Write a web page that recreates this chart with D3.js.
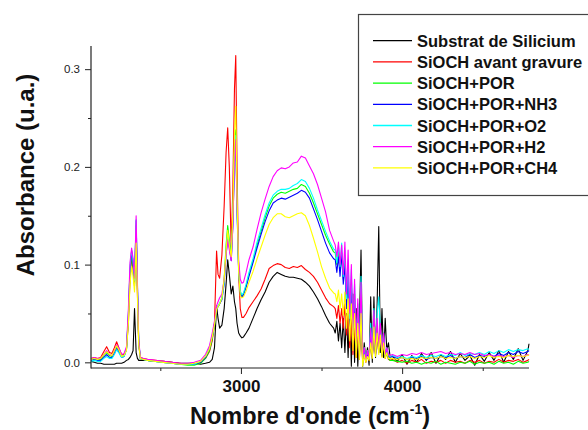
<!DOCTYPE html>
<html><head><meta charset="utf-8">
<script src="https://cdn.jsdelivr.net/npm/d3@7"></script>
<style>
html,body{margin:0;padding:0;background:#fff;}
svg{display:block;font-family:"Liberation Sans",Arial,sans-serif;}
</style></head>
<body>
<svg id="chart" width="588" height="430"></svg>
<script>
// ---- data ----
const seriesNames = ["Substrat de Silicium","SiOCH avant gravure","SiOCH+POR","SiOCH+POR+NH3","SiOCH+POR+O2","SiOCH+POR+H2","SiOCH+POR+CH4"];
const seriesColors = ["#000000","#ff0000","#00ff00","#0000ff","#00ffff","#ff00ff","#ffff00"];
const xTicksMajor = [3000, 4000];
const xTicksMinor = [2500, 3500, 4500];
const yTicksMajor = [0.0, 0.1, 0.2, 0.3];
const yTicksMinor = [0.05, 0.15, 0.25];
const xDomain = [2070, 4787];
const yDomain = [-0.0058, 0.3237];

const wavenumber = [
2070,2090,2110,2130,2150,2167,2185,2200,2215,2229,2245,2260,2275,2290,2302,2312,2322,2331,2340,2350,2358,2366,2376,2395,
2420,2470,2520,2570,2620,2670,2710,2750,2780,2805,2822,2836,2849,2858,2868,2882,2896,2908,2918,2928,2940,2950,2960,2968,2976,2986,2996,3006,3016,3032,3050,
3075,3100,3125,3150,3175,3200,3225,3250,3275,3300,3325,3350,3375,3400,3425,3450,3475,3500,3525,3550,3575,
3585,3595,3605,3615,3625,3635,3645,3655,3665,3675,3685,3695,3705,3715,3725,3735,3745,3755,3765,3775,3785,3795,3805,3815,3825,3835,3845,3855,3865,3875,3885,3895,3905,3915,3925,
3940,3970,4000,4030,4060,4090,4120,4150,4180,4210,4240,4270,4300,4330,4360,4390,4420,4450,4480,4510,4540,4570,4600,4630,4660,4690,4720,4750,4780,4787];

const substrat = [
0.001,0.000,-0.001,-0.001,-0.002,-0.002,-0.002,-0.002,-0.002,-0.001,-0.001,-0.001,0.000,0.002,0.003,0.005,0.008,0.012,0.055,0.010,0.004,0.002,0.002,0.002,
0.002,0.001,0.001,0.000,-0.001,-0.001,-0.001,-0.002,-0.001,0.000,0.003,0.015,0.058,0.045,0.035,0.038,0.055,0.080,0.105,0.090,0.070,0.078,0.062,0.055,0.040,0.030,0.027,0.025,0.026,0.030,0.035,
0.045,0.055,0.064,0.072,0.082,0.088,0.092,0.090,0.088,0.087,0.087,0.086,0.085,0.082,0.078,0.072,0.065,0.057,0.048,0.040,0.035,
0.030,0.042,0.022,0.040,0.015,0.045,0.010,0.050,0.005,0.060,-0.004,0.070,0.000,0.055,-0.004,0.040,0.115,-0.004,0.020,0.002,0.015,-0.003,0.067,0.000,0.067,0.005,0.060,0.139,0.010,0.055,0.005,0.045,0.012,0.020,0.006,
0.006,0.001,0.008,-0.002,0.007,0.000,0.009,0.002,0.010,-0.001,0.008,0.003,0.011,0.000,0.009,0.002,0.007,-0.003,0.008,0.001,0.010,0.002,0.012,0.000,0.011,0.003,0.014,0.002,0.012,0.019];

const avantGravure = [
0.004,0.005,0.004,0.005,0.011,0.016,0.010,0.009,0.015,0.021,0.014,0.008,0.008,0.014,0.040,0.085,0.108,0.094,0.078,0.135,0.070,0.018,0.005,0.004,
0.003,0.002,0.001,0.000,-0.001,-0.002,-0.002,0.000,0.004,0.011,0.022,0.040,0.114,0.090,0.086,0.110,0.160,0.215,0.240,0.200,0.115,0.180,0.280,0.314,0.200,0.090,0.055,0.046,0.046,0.050,0.056,
0.062,0.068,0.075,0.085,0.096,0.099,0.101,0.100,0.097,0.096,0.098,0.097,0.099,0.095,0.092,0.088,0.082,0.074,0.066,0.060,0.057,
0.055,0.045,0.058,0.040,0.055,0.035,0.060,0.028,0.050,0.015,0.045,0.008,0.040,0.005,0.030,0.003,0.035,0.002,0.008,0.000,0.006,0.002,0.020,0.005,0.030,0.008,0.025,0.010,0.028,0.006,0.020,0.004,0.010,0.003,0.002,
0.003,0.000,0.002,-0.001,0.002,0.000,0.003,-0.001,0.001,0.000,0.002,-0.001,0.002,0.000,0.001,-0.001,0.002,0.000,0.002,-0.001,0.001,0.000,0.003,0.000,0.002,0.001,0.003,0.000,0.002,0.003];

const porOnly = [
0.003,0.004,0.003,0.003,0.007,0.010,0.007,0.006,0.011,0.016,0.012,0.006,0.007,0.013,0.045,0.090,0.110,0.098,0.080,0.140,0.075,0.020,0.004,0.003,
0.002,0.001,0.000,-0.001,-0.002,-0.003,-0.003,-0.001,0.004,0.012,0.024,0.038,0.054,0.057,0.060,0.066,0.085,0.120,0.140,0.125,0.110,0.150,0.215,0.238,0.160,0.095,0.072,0.068,0.070,0.078,0.090,
0.104,0.120,0.134,0.148,0.160,0.168,0.172,0.174,0.173,0.175,0.177,0.178,0.182,0.180,0.173,0.163,0.152,0.141,0.130,0.121,0.113,
0.112,0.100,0.115,0.095,0.110,0.085,0.105,0.060,0.095,0.040,0.085,0.025,0.070,0.015,0.050,0.010,0.065,0.004,0.012,0.002,0.010,0.003,0.030,0.008,0.040,0.010,0.035,0.012,0.030,0.008,0.022,0.005,0.010,0.004,0.002,
0.002,0.001,0.000,0.001,-0.001,0.000,-0.002,0.000,-0.001,0.001,-0.002,0.000,-0.001,-0.002,0.000,-0.001,0.001,-0.002,0.000,-0.001,0.000,-0.002,0.001,-0.001,0.000,-0.002,0.001,-0.001,0.000,0.001];

const porNH3 = [
0.002,0.003,0.002,0.002,0.005,0.008,0.005,0.005,0.009,0.014,0.010,0.005,0.006,0.013,0.048,0.095,0.114,0.102,0.083,0.145,0.078,0.021,0.004,0.003,
0.002,0.001,0.000,-0.001,-0.002,-0.002,-0.002,0.000,0.005,0.014,0.026,0.039,0.054,0.057,0.060,0.064,0.080,0.110,0.128,0.118,0.104,0.140,0.205,0.228,0.155,0.092,0.070,0.067,0.069,0.077,0.088,
0.102,0.117,0.131,0.144,0.155,0.163,0.166,0.168,0.167,0.169,0.171,0.173,0.176,0.174,0.168,0.157,0.146,0.134,0.122,0.112,0.106,
0.105,0.092,0.108,0.088,0.112,0.080,0.100,0.055,0.090,0.035,0.080,0.020,0.065,0.012,0.045,0.008,0.060,0.003,0.010,0.002,0.008,0.003,0.025,0.006,0.035,0.008,0.030,0.010,0.028,0.007,0.020,0.006,0.012,0.006,0.005,
0.006,0.004,0.005,0.003,0.005,0.004,0.006,0.003,0.005,0.004,0.006,0.005,0.007,0.004,0.006,0.005,0.008,0.005,0.007,0.006,0.008,0.006,0.009,0.007,0.010,0.008,0.011,0.009,0.011,0.012];

const porO2 = [
0.001,0.002,0.001,0.001,0.004,0.006,0.004,0.004,0.008,0.013,0.009,0.005,0.006,0.014,0.050,0.098,0.115,0.104,0.084,0.146,0.080,0.022,0.004,0.003,
0.002,0.001,0.000,-0.001,-0.002,-0.002,-0.002,0.001,0.006,0.015,0.027,0.040,0.055,0.058,0.061,0.065,0.082,0.112,0.132,0.120,0.106,0.145,0.210,0.232,0.158,0.095,0.073,0.069,0.071,0.080,0.092,
0.106,0.123,0.137,0.151,0.163,0.171,0.175,0.177,0.177,0.178,0.181,0.183,0.187,0.185,0.178,0.168,0.156,0.145,0.134,0.124,0.116,
0.115,0.102,0.120,0.098,0.122,0.088,0.115,0.065,0.105,0.045,0.095,0.030,0.080,0.018,0.060,0.012,0.088,0.005,0.015,0.003,0.012,0.004,0.040,0.010,0.055,0.012,0.050,0.067,0.035,0.010,0.030,0.008,0.015,0.008,0.006,
0.007,0.005,0.006,0.004,0.006,0.005,0.007,0.005,0.007,0.006,0.008,0.006,0.008,0.007,0.010,0.007,0.009,0.008,0.010,0.008,0.011,0.009,0.012,0.010,0.013,0.011,0.013,0.012,0.014,0.013];

const porH2 = [
0.004,0.005,0.004,0.004,0.008,0.012,0.008,0.007,0.012,0.018,0.014,0.008,0.009,0.016,0.055,0.102,0.117,0.106,0.086,0.150,0.082,0.024,0.005,0.004,
0.003,0.002,0.001,0.000,-0.001,-0.001,0.000,0.002,0.008,0.017,0.030,0.042,0.058,0.062,0.066,0.070,0.085,0.110,0.125,0.115,0.104,0.140,0.205,0.228,0.160,0.105,0.085,0.081,0.082,0.092,0.105,
0.118,0.136,0.153,0.167,0.180,0.190,0.196,0.199,0.198,0.200,0.204,0.205,0.211,0.209,0.201,0.193,0.182,0.168,0.154,0.135,0.124,
0.120,0.108,0.123,0.100,0.120,0.090,0.123,0.070,0.115,0.050,0.100,0.030,0.085,0.020,0.065,0.012,0.082,0.005,0.015,0.003,0.012,0.004,0.035,0.008,0.053,0.010,0.045,0.015,0.040,0.010,0.030,0.008,0.015,0.008,0.007,
0.008,0.006,0.008,0.007,0.009,0.008,0.010,0.008,0.009,0.010,0.011,0.009,0.010,0.008,0.009,0.008,0.010,0.008,0.009,0.007,0.008,0.006,0.007,0.006,0.007,0.005,0.007,0.006,0.008,0.007];

const porCH4 = [
0.003,0.004,0.003,0.004,0.008,0.011,0.008,0.007,0.012,0.017,0.012,0.006,0.007,0.012,0.040,0.080,0.098,0.088,0.072,0.122,0.066,0.018,0.004,0.003,
0.002,0.001,0.000,-0.001,-0.002,-0.002,-0.001,0.001,0.006,0.014,0.026,0.038,0.054,0.057,0.060,0.066,0.085,0.115,0.135,0.120,0.108,0.155,0.235,0.262,0.170,0.092,0.068,0.066,0.067,0.073,0.082,
0.093,0.106,0.118,0.130,0.141,0.148,0.152,0.152,0.149,0.148,0.150,0.152,0.153,0.150,0.140,0.127,0.113,0.098,0.086,0.076,0.071,
0.070,0.062,0.074,0.055,0.070,0.048,0.072,0.035,0.065,0.022,0.060,0.012,0.050,0.005,0.040,0.003,0.050,-0.004,0.008,0.000,0.006,0.002,0.020,0.004,0.036,0.006,0.030,0.008,0.028,0.005,0.020,0.004,0.010,0.004,0.004,
0.004,0.003,0.005,0.003,0.004,0.003,0.005,0.004,0.005,0.004,0.006,0.004,0.005,0.004,0.006,0.005,0.006,0.004,0.006,0.005,0.007,0.005,0.006,0.005,0.007,0.006,0.007,0.006,0.007,0.008];

const seriesValues = [substrat, avantGravure, porOnly, porNH3, porO2, porH2, porCH4];

// ---- drawing ----
const svg = d3.select("#chart");
const plot = {left: 91, right: 529, top: 46, bottom: 368};
const x = d3.scaleLinear().domain(xDomain).range([plot.left, plot.right]);
const y = d3.scaleLinear().domain(yDomain).range([plot.bottom, plot.top]);

const line = d3.line().x(d => x(d[0])).y(d => y(d[1]));
const gLines = svg.append("g");
seriesValues.forEach((vals, i) => {
  const pts = wavenumber.map((w, k) => [w, vals[k]]).filter(p => p[1] !== undefined);
  gLines.append("path")
    .attr("d", line(pts))
    .attr("fill", "none")
    .attr("stroke", seriesColors[i])
    .attr("stroke-width", 1.1)
    .attr("stroke-linejoin", "round");
});

// axes
const axisColor = "#222";
const yAxisG = svg.append("g").attr("transform", `translate(${plot.left},0)`)
  .call(d3.axisLeft(y).tickValues(yTicksMajor).tickFormat(d3.format(".1f")).tickSize(6).tickSizeOuter(0));
yAxisG.select(".domain").remove();
yAxisG.selectAll("line").attr("stroke", axisColor);
yAxisG.selectAll("text").attr("font-size", "11.5px").attr("fill", "#222").attr("font-family", "Liberation Sans, Arial, sans-serif").attr("x", -11);
svg.append("g").attr("transform", `translate(${plot.left},0)`)
  .call(d3.axisLeft(y).tickValues(yTicksMinor).tickFormat("").tickSize(3).tickSizeOuter(0))
  .call(g => g.select(".domain").remove())
  .selectAll("line").attr("stroke", axisColor);
svg.append("line").attr("x1", plot.left).attr("x2", plot.left).attr("y1", plot.top).attr("y2", plot.bottom + 0.5)
  .attr("stroke", axisColor).attr("stroke-width", 1.2);

const xAxisG = svg.append("g").attr("transform", `translate(0,${plot.bottom})`)
  .call(d3.axisBottom(x).tickValues(xTicksMajor).tickFormat(d3.format("d")).tickSize(6).tickSizeOuter(0));
xAxisG.select(".domain").remove();
xAxisG.selectAll("line").attr("stroke", axisColor);
xAxisG.selectAll("text").attr("font-size", "17px").attr("font-weight", "bold").attr("fill", "#111")
  .attr("font-family", "Liberation Sans, Arial, sans-serif").attr("y", 12);
svg.append("g").attr("transform", `translate(0,${plot.bottom})`)
  .call(d3.axisBottom(x).tickValues(xTicksMinor).tickFormat("").tickSize(3).tickSizeOuter(0))
  .call(g => g.select(".domain").remove())
  .selectAll("line").attr("stroke", axisColor);
svg.append("line").attr("x1", plot.left).attr("x2", plot.right).attr("y1", plot.bottom).attr("y2", plot.bottom)
  .attr("stroke", axisColor).attr("stroke-width", 1.2);

// axis titles
const xt = svg.append("text").attr("x", 310).attr("y", 424).attr("text-anchor", "middle")
  .attr("font-size", "23.5px").attr("font-weight", "bold").attr("fill", "#111");
xt.append("tspan").text("Nombre d'onde (cm");
xt.append("tspan").attr("font-size", "14px").attr("dy", -10).text("-1");
xt.append("tspan").attr("dy", 10).text(")");

svg.append("text").attr("transform", "translate(34,175) rotate(-90)").attr("text-anchor", "middle")
  .attr("font-size", "24px").attr("font-weight", "bold").attr("fill", "#111").text("Absorbance (u.a.)");

// legend
const lg = svg.append("g");
lg.append("rect").attr("x", 358.5).attr("y", 14.5).attr("width", 250).attr("height", 181)
  .attr("fill", "#fff").attr("stroke", "#444").attr("stroke-width", 1.2);
seriesNames.forEach((name, i) => {
  const cy = 40.7 + i * 21.2;
  lg.append("line").attr("x1", 373).attr("x2", 412).attr("y1", cy).attr("y2", cy)
    .attr("stroke", seriesColors[i]).attr("stroke-width", 1.3);
  lg.append("text").attr("x", 417).attr("y", cy + 6).attr("font-size", "16.5px").attr("font-weight", "bold")
    .attr("fill", "#111").text(name);
});
</script>
</body></html>
